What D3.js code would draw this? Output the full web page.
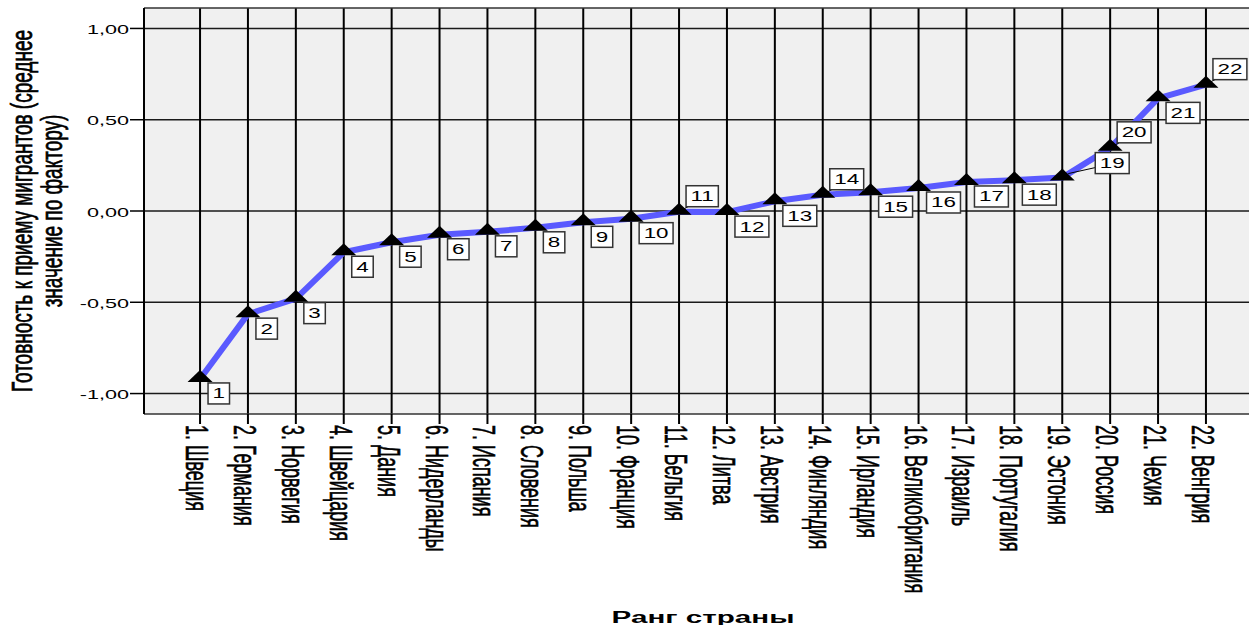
<!DOCTYPE html>
<html>
<head>
<meta charset="utf-8">
<script src="https://cdn.jsdelivr.net/npm/d3@7/dist/d3.min.js"></script>
<style>
  html, body { margin: 0; padding: 0; background: #ffffff; }
  svg { display: block; }
  text { font-family: "Liberation Sans", Arial, sans-serif; fill: #000; }
</style>
</head>
<body>
<svg id="chart" width="1249" height="625"></svg>
<script>
// ---- data ----
const categories = ["1. Швеция", "2. Германия", "3. Норвегия", "4. Швейцария", "5. Дания",
  "6. Нидерланды", "7. Испания", "8. Словения", "9. Польша", "10. Франция", "11. Бельгия",
  "12. Литва", "13. Австрия", "14. Финляндия", "15. Ирландия", "16. Великобритания",
  "17. Израиль", "18. Португалия", "19. Эстония", "20. Россия", "21. Чехия", "22. Венгрия"];
const values = [-0.92, -0.565, -0.48, -0.226, -0.171, -0.130, -0.114, -0.092, -0.062, -0.042,
  -0.004, -0.006, 0.053, 0.089, 0.103, 0.126, 0.159, 0.169, 0.183, 0.346, 0.617, 0.692];
const rankLabels = ["1","2","3","4","5","6","7","8","9","10","11","12","13","14","15","16","17","18","19","20","21","22"];
const labelSide = ["b","b","b","b","b","b","b","b","b","b","a","b","b","a","b","b","b","b","r","a","b","a"];
const yTicks = [-1, -0.5, 0, 0.5, 1];
const yTitleLines = ["Готовность к приему мигрантов (среднее", "значение по фактору)"];
const xTitle = "Ранг страны";

// ---- layout ----
const svg = d3.select("#chart");
const plot = { left: 144, right: 1262, top: 8, bottom: 414 };
const SX = 1.6; // horizontal stretch of glyphs

const x = d3.scalePoint().domain(categories).range([plot.left, plot.right]).padding(1.17);
const y = d3.scaleLinear().domain([-1.112, 1.112]).range([plot.bottom, plot.top]);

const fmt = d3.formatLocale({ decimal: ",", thousands: " ", grouping: [3], currency: ["", ""], minus: "-" }).format(".2f");

// background
svg.append("rect")
  .attr("x", plot.left).attr("y", plot.top)
  .attr("width", plot.right - plot.left).attr("height", plot.bottom - plot.top)
  .attr("fill", "#f0f0f0");

// horizontal gridlines
svg.append("g").selectAll("line").data(yTicks).join("line")
  .attr("x1", plot.left).attr("x2", plot.right)
  .attr("y1", d => y(d)).attr("y2", d => y(d))
  .attr("stroke", "#1a1a1a").attr("stroke-width", 1.5);

// vertical gridlines
svg.append("g").selectAll("line").data(categories).join("line")
  .attr("x1", d => x(d)).attr("x2", d => x(d))
  .attr("y1", plot.top).attr("y2", plot.bottom)
  .attr("stroke", "#000").attr("stroke-width", 2);

// frame
svg.append("line").attr("x1", plot.left).attr("x2", plot.right).attr("y1", plot.top).attr("y2", plot.top)
  .attr("stroke", "#333").attr("stroke-width", 1.5);
svg.append("line").attr("x1", plot.left).attr("x2", plot.right).attr("y1", plot.bottom).attr("y2", plot.bottom)
  .attr("stroke", "#333").attr("stroke-width", 1.5);
svg.append("line").attr("x1", plot.left).attr("x2", plot.left).attr("y1", plot.top).attr("y2", plot.bottom)
  .attr("stroke", "#000").attr("stroke-width", 2);

// y axis ticks + labels
const yAxisG = svg.append("g");
yAxisG.selectAll("line").data(yTicks).join("line")
  .attr("x1", plot.left - 14).attr("x2", plot.left)
  .attr("y1", d => y(d)).attr("y2", d => y(d))
  .attr("stroke", "#000").attr("stroke-width", 1.5);
yAxisG.selectAll("text").data(yTicks).join("text")
  .attr("transform", d => `translate(${plot.left - 15},${y(d) + 5.5}) scale(${SX},1)`)
  .attr("text-anchor", "end")
  .attr("font-size", 13.5)
  .text(d => fmt(d));

// x axis ticks + labels
const xAxisG = svg.append("g");
xAxisG.selectAll("line").data(categories).join("line")
  .attr("x1", d => x(d)).attr("x2", d => x(d))
  .attr("y1", plot.bottom).attr("y2", plot.bottom + 10)
  .attr("stroke", "#000").attr("stroke-width", 2);
xAxisG.selectAll("text").data(categories).join("text")
  .attr("transform", d => `translate(${x(d) - 14},${plot.bottom + 11}) scale(1.76,1) rotate(90)`)
  .attr("text-anchor", "start")
  .attr("font-size", 18)
  .attr("stroke", "#000").attr("stroke-width", 0.35)
  .text(d => d);

// y title
svg.append("g").selectAll("text").data(yTitleLines).join("text")
  .attr("transform", (d, i) => `translate(${31.5 + i * 30},${(plot.top + plot.bottom) / 2}) scale(${SX},1) rotate(-90)`)
  .attr("text-anchor", "middle")
  .attr("font-size", 19)
  .attr("stroke", "#000").attr("stroke-width", 0.45)
  .text(d => d);

// x title
svg.append("text")
  .attr("transform", `translate(${(plot.left + plot.right) / 2},623) scale(1.85,1)`)
  .attr("text-anchor", "middle")
  .attr("font-size", 16)
  .attr("font-weight", "bold")
  .text(xTitle);

// data line
const pts = categories.map((c, i) => ({ c, v: values[i], lab: rankLabels[i], side: labelSide[i] }));
svg.append("path")
  .datum(pts)
  .attr("d", d3.line().x(d => x(d.c)).y(d => y(d.v)))
  .attr("fill", "none")
  .attr("stroke", "#5a5aff")
  .attr("stroke-width", 6)
  .attr("stroke-linejoin", "round");

// leader lines
const leaderG = svg.append("g");
pts.filter(d => d.side === "r").forEach(d => {
  leaderG.append("line")
    .attr("x1", x(d.c) + 6).attr("y1", y(d.v) - 4)
    .attr("x2", x(d.c) + 33).attr("y2", y(d.v) - 10)
    .attr("stroke", "#000").attr("stroke-width", 1);
});
pts.filter(d => d.side === "a").forEach(d => {
  leaderG.append("line")
    .attr("x1", x(d.c) + 3).attr("y1", y(d.v) - 2)
    .attr("x2", x(d.c) + 9).attr("y2", y(d.v) - 5)
    .attr("stroke", "#000").attr("stroke-width", 1);
});

// triangle markers
svg.append("g").selectAll("path").data(pts).join("path")
  .attr("d", d => {
    const cx = x(d.c), cy = y(d.v);
    return `M${cx},${cy - 9}L${cx + 12.5},${cy + 3}L${cx - 12.5},${cy + 3}Z`;
  })
  .attr("fill", "#000");

// rank label boxes
const boxG = svg.append("g");
pts.forEach(d => {
  const g = boxG.append("g");
  const t = g.append("text")
    .attr("font-size", 14)
    .attr("text-anchor", "middle")
    .text(d.lab);
  const tw = t.node().getComputedTextLength() * SX;
  const w = tw + 9, h = 21;
  const px = x(d.c), py = y(d.v);
  let bx, by;
  if (d.side === "b") { bx = px + 8; by = py + 4; }
  else if (d.side === "a") { bx = px + 7; by = py - 5 - h; }
  else { bx = px + 33; by = py - 25; }
  g.insert("rect", "text")
    .attr("x", bx).attr("y", by).attr("width", w).attr("height", h)
    .attr("fill", "#fff").attr("stroke", "#333").attr("stroke-width", 1.5);
  t.attr("transform", `translate(${bx + w / 2},${by + 15.5}) scale(${SX},1)`);
});
</script>
</body>
</html>
